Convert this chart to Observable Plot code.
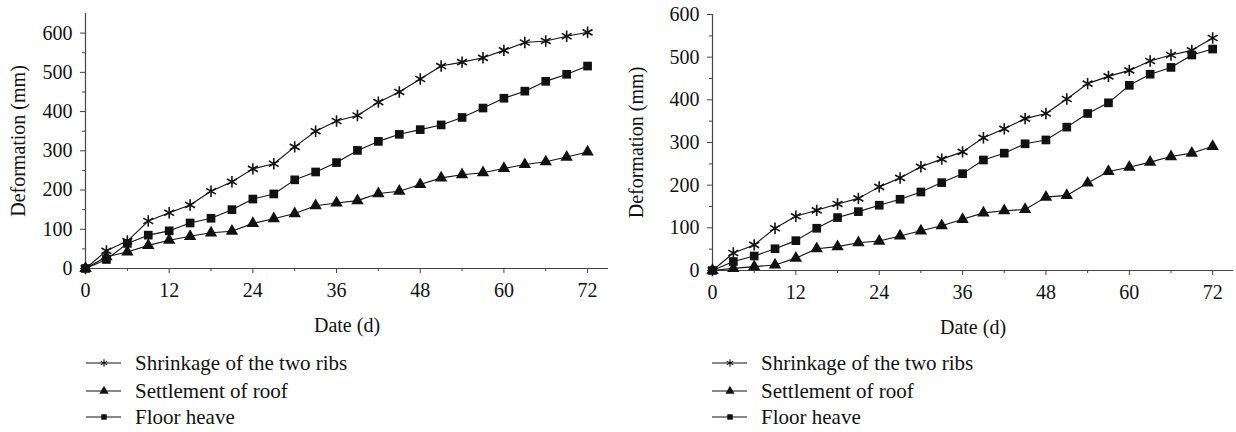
<!DOCTYPE html>
<html>
<head>
<meta charset="utf-8">
<script src="https://cdn.jsdelivr.net/npm/d3@7"></script>
<script src="https://cdn.jsdelivr.net/npm/@observablehq/plot@0.6"></script>
<style>
  html, body { margin: 0; padding: 0; background: #fff; font-family: 'Liberation Serif', serif; }
  #figure { display: flex; width: 1236px; height: 432px; }
  #figure svg text { font-family: 'Liberation Serif', serif; }
  .panel { position: relative; width: 618px; height: 432px; }
  .legend-row { position: absolute; height: 24px; line-height: 24px; font-size: 21px; color: #111; white-space: nowrap; display: flex; align-items: center; font-family: 'Liberation Serif', serif; }
  .legend-row svg { margin-right: 13px; }
</style>
</head>
<body>
<div id="figure"></div>
<script>
// Observation days (d)
const days = [0, 3, 6, 9, 12, 15, 18, 21, 24, 27, 30, 33, 36, 39, 42, 45, 48, 51, 54, 57, 60, 63, 66, 69, 72];

// Left panel: deformation (mm)
const ribsLeft  = [0, 45, 70, 121, 142, 162, 197, 221, 254, 267, 310, 350, 376, 390, 424, 450, 483, 516, 526, 537, 556, 576, 580, 592, 602];
const roofLeft  = [0, 30, 42, 59, 72, 82, 91, 95, 115, 127, 140, 160, 167, 173, 191, 197, 214, 231, 239, 244, 255, 265, 272, 284, 297];
const floorLeft = [0, 23, 64, 85, 96, 116, 128, 150, 177, 190, 226, 246, 270, 301, 324, 342, 354, 366, 385, 409, 434, 452, 477, 495, 516];

// Right panel: deformation (mm)
const ribsRight  = [0, 41, 60, 99, 127, 141, 156, 169, 196, 217, 243, 261, 278, 311, 332, 356, 368, 402, 438, 455, 469, 491, 505, 516, 545];
const roofRight  = [0, 5, 9, 13, 29, 51, 56, 65, 69, 81, 93, 105, 120, 135, 140, 143, 172, 176, 205, 232, 242, 254, 267, 275, 291];
const floorRight = [0, 21, 34, 51, 70, 99, 124, 138, 153, 167, 184, 206, 227, 259, 275, 297, 306, 336, 368, 393, 434, 460, 476, 505, 519];

// Axis ticks
const xMajor = [0, 12, 24, 36, 48, 60, 72];
const xMinor = [6, 18, 30, 42, 54, 66];
const yMajor = [0, 100, 200, 300, 400, 500, 600];
const yMinor = [50, 150, 250, 350, 450, 550];

// Series names and their markers
const seriesNames = ["Shrinkage of the two ribs", "Settlement of roof", "Floor heave"];
const seriesSymbols = ["asterisk", "triangle", "square"];

const axisColor = "#444";
const serif = "'Liberation Serif', serif";

function rowsOf(values, name) {
  return days.map((d, i) => ({day: d, value: values[i], name}));
}

function panel({ribs, roof, floor, yMax, marginTop, marginBottom, marginLeft, marginRight}) {
  const ribsRows = rowsOf(ribs, seriesNames[0]);
  const roofRows = rowsOf(roof, seriesNames[1]);
  const floorRows = rowsOf(floor, seriesNames[2]);
  const all = [...ribsRows, ...roofRows, ...floorRows];
  const svg = Plot.plot({
    width: 618,
    height: 335,
    marginTop, marginBottom, marginLeft, marginRight,
    style: {fontFamily: serif, fontSize: "20px", color: "#111", background: "white", overflow: "visible"},
    x: {domain: [0, 75]},
    y: {domain: [0, yMax]},
    marks: [
      Plot.axisX({ticks: xMajor, tickSize: 5, tickPadding: 9, stroke: axisColor, label: "Date (d)", labelAnchor: "center", labelArrow: "none", labelOffset: 63}),
      Plot.axisX({ticks: xMinor, tickSize: 3, stroke: axisColor, tickFormat: () => "", label: null}),
      Plot.axisY({ticks: yMajor, tickSize: 5, tickPadding: 8, stroke: axisColor, label: "Deformation (mm)", labelAnchor: "center", labelArrow: "none", labelOffset: marginLeft - 10}),
      Plot.axisY({ticks: yMinor, tickSize: 3, stroke: axisColor, tickFormat: () => "", label: null}),
      Plot.ruleX([0], {stroke: axisColor, strokeWidth: 1.2}),
      Plot.ruleY([0], {stroke: axisColor, strokeWidth: 1.2}),
      Plot.line(all, {x: "day", y: "value", z: "name", stroke: "#111", strokeWidth: 1.1}),
      Plot.dot(ribsRows, {x: "day", y: "value", symbol: "asterisk", r: 5.4, stroke: "#111", strokeWidth: 1.6}),
      Plot.dot(roofRows, {x: "day", y: "value", symbol: "triangle", r: 4.6, fill: "#111", stroke: "none"}),
      Plot.dot(floorRows, {x: "day", y: "value", symbol: "square", r: 4.9, fill: "#111", stroke: "none"})
    ]
  });
  svg.setAttribute("font-family", serif);
  return svg;
}

function legendSwatch(symbolName) {
  const w = 36, h = 20;
  const svg = d3.create("svg").attr("width", w).attr("height", h);
  svg.append("line").attr("x1", 0).attr("x2", w - 1).attr("y1", h / 2).attr("y2", h / 2)
    .attr("stroke", "#111").attr("stroke-width", 1.1);
  const type = {asterisk: d3.symbolAsterisk, triangle: d3.symbolTriangle, square: d3.symbolSquare}[symbolName];
  const size = symbolName === "asterisk" ? 40 : symbolName === "triangle" ? 36 : 30;
  const p = svg.append("path").attr("d", d3.symbol(type, size)()).attr("transform", `translate(${w / 2},${h / 2})`);
  if (symbolName === "asterisk") p.attr("fill", "none").attr("stroke", "#111").attr("stroke-width", 1.1);
  else p.attr("fill", "#111");
  return svg.node();
}

function addPanel(options, legendLeft) {
  const div = document.createElement("div");
  div.className = "panel";
  div.append(panel(options));
  const rowTops = [351, 379, 405];
  seriesNames.forEach((name, i) => {
    const row = document.createElement("div");
    row.className = "legend-row";
    row.style.left = legendLeft + "px";
    row.style.top = rowTops[i] + "px";
    row.append(legendSwatch(seriesSymbols[i]));
    const label = document.createElement("span");
    label.textContent = name;
    row.append(label);
    div.append(row);
  });
  document.getElementById("figure").append(div);
}

addPanel({ribs: ribsLeft, roof: roofLeft, floor: floorLeft, yMax: 650, marginTop: 13, marginBottom: 67, marginLeft: 85, marginRight: 10}, 86);
addPanel({ribs: ribsRight, roof: roofRight, floor: floorRight, yMax: 600, marginTop: 14, marginBottom: 65, marginLeft: 94, marginRight: 3}, 94);
</script>
</body>
</html>
